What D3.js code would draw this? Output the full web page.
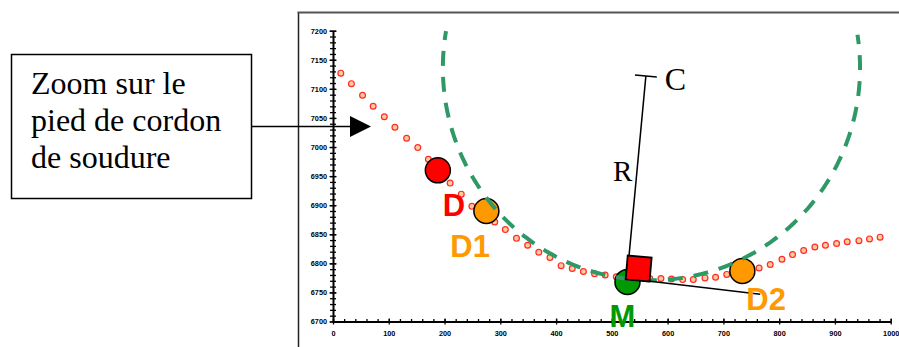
<!DOCTYPE html>
<html><head><meta charset="utf-8">
<script src="https://cdn.jsdelivr.net/npm/d3@7"></script>
<style>html,body{margin:0;padding:0;background:#fff;}svg{display:block;}</style>
</head><body>
<svg id="chart" width="899" height="347"></svg>
<script>
// ---- data ----
const dotX = [14,33,53,72,92,111,132,152,171,190,210,230,249,269,290,309,329,349,369,389,409,429,449,469,488,508,527,547,568,588,607,627,646,667,686,706,725,745,764,784,805,824,844,864,883,903,922,943,962,981];
const dotY = [7127,7109,7089,7070,7052,7034,7015,6999,6979,6958,6938,6919,6898,6884,6871,6858,6843,6831,6819,6810,6796,6791,6786,6782,6780,6777,6775,6774,6774,6774,6773,6772,6772,6775,6776,6781,6784,6788,6792,6798,6807,6815,6822,6828,6831,6834,6837,6839,6842,6845];
const markerNames = ["D","D1","M","D2"];
const markerX = [188, 275, 528, 734];
const markerY = [6960, 6890, 6768, 6787];
const squarePt = [548, 6791];
const centerC = [561, 7122];
const footPt = [527, 6774];
const tangentEnd = [766, 6747];
const arcCenter = [571, 7136];
const arcRadius = [374, 365];
const arcAngles = [170, 369];
const xTickLabels = [0,100,200,300,400,500,600,700,800,900,1000];
const yTickLabels = [6700,6750,6800,6850,6900,6950,7000,7050,7100,7150,7200];
const boxLines = ["Zoom sur le","pied de cordon","de soudure"];

const svg = d3.select("#chart");
const x = d3.scaleLinear().domain([0,1000]).range([333,890.7]);
const y = d3.scaleLinear().domain([6700,7200]).range([321.5,30.7]);

// frame
svg.append("line").attr("x1",298.5).attr("y1",12).attr("x2",298.5).attr("y2",347).attr("stroke","#222").attr("stroke-width",1.5);
svg.append("line").attr("x1",297.5).attr("y1",12.5).attr("x2",899).attr("y2",12.5).attr("stroke","#555").attr("stroke-width",2);

// y axis minor ticks (every 10)
const yMinor = d3.range(6700,7201,10);
const gyMinor = svg.append("g").attr("transform",`translate(${x(0)},0)`)
  .call(d3.axisLeft(y).tickValues(yMinor).tickSize(0).tickFormat(""));
gyMinor.select(".domain").remove();
gyMinor.selectAll(".tick line").attr("x1",-3).attr("x2",3).attr("stroke","#000").attr("stroke-width",1.3);
// y axis major
const gy = svg.append("g").attr("transform",`translate(${x(0)},0)`)
  .call(d3.axisLeft(y).tickValues(yTickLabels).tickSize(0).tickPadding(6).tickFormat(d3.format("d")));
gy.select(".domain").attr("stroke","#000").attr("stroke-width",2);
gy.selectAll(".tick line").attr("x1",-3.5).attr("x2",3.5).attr("stroke","#000").attr("stroke-width",1.3);
gy.selectAll(".tick text").attr("font-family","Liberation Sans, Arial, sans-serif").attr("font-weight","bold").attr("font-size",7.3).attr("fill","#000");

// x axis minor (every 20)
const xMinor = d3.range(0,1001,20);
const gxMinor = svg.append("g").attr("transform",`translate(0,${y(6700)})`)
  .call(d3.axisBottom(x).tickValues(xMinor).tickSize(0).tickFormat(""));
gxMinor.select(".domain").remove();
gxMinor.selectAll(".tick line").attr("y1",-2.5).attr("y2",0).attr("stroke","#000").attr("stroke-width",1.3);
const gx = svg.append("g").attr("transform",`translate(0,${y(6700)})`)
  .call(d3.axisBottom(x).tickValues(xTickLabels).tickSize(0).tickPadding(9).tickFormat(d3.format("d")));
gx.select(".domain").attr("stroke","#000").attr("stroke-width",2);
gx.selectAll(".tick line").attr("y1",-3).attr("y2",3).attr("stroke","#000").attr("stroke-width",1.3);
gx.selectAll(".tick text").attr("font-family","Liberation Sans, Arial, sans-serif").attr("font-weight","bold").attr("font-size",7.3).attr("fill","#000");

// dotted profile
svg.append("g").selectAll("circle").data(dotX.map((d,i)=>[d,dotY[i]])).join("circle")
  .attr("cx",d=>x(d[0])).attr("cy",d=>y(d[1])).attr("r",2.9)
  .attr("fill","#ffcc99").attr("stroke","#ff2a2a").attr("stroke-width",1.2);

// markers
const markerFill = ["#ff0000","#ff9900","#009900","#ff9900"];
svg.append("g").selectAll("circle").data(markerNames).join("circle")
  .attr("cx",(d,i)=>x(markerX[i])).attr("cy",(d,i)=>y(markerY[i])).attr("r",12.5)
  .attr("fill",(d,i)=>markerFill[i]).attr("stroke","#000").attr("stroke-width",1.5);

// dashed osculating circle
const angs = d3.range(arcAngles[0], arcAngles[1]+0.01, 1);
const arcPts = angs.map(a=>[arcCenter[0]+arcRadius[0]*Math.cos(a*Math.PI/180), arcCenter[1]+arcRadius[1]*Math.sin(a*Math.PI/180)]);
svg.append("path").attr("d", d3.line().x(d=>x(d[0])).y(d=>y(d[1])).curve(d3.curveCatmullRom)(arcPts))
  .attr("fill","none").attr("stroke","#2e9966").attr("stroke-width",4)
  .attr("stroke-dasharray","15,11").attr("stroke-dashoffset",6);

// R and tangent lines
svg.append("line").attr("x1",x(centerC[0])).attr("y1",y(centerC[1])).attr("x2",x(footPt[0])).attr("y2",y(footPt[1]))
  .attr("stroke","#000").attr("stroke-width",1.5);
svg.append("line").attr("x1",x(footPt[0])).attr("y1",y(footPt[1])).attr("x2",x(tangentEnd[0])).attr("y2",y(tangentEnd[1]))
  .attr("stroke","#000").attr("stroke-width",1.5);
{
  const cx = x(centerC[0]), cy = y(centerC[1]);
  const fx = x(footPt[0]), fy = y(footPt[1]);
  const len = Math.hypot(fx-cx, fy-cy);
  const ux = (fx-cx)/len, uy = (fy-cy)/len;
  const px = -uy, py = ux;
  svg.append("line").attr("x1",cx-px*11).attr("y1",cy-py*11).attr("x2",cx+px*11).attr("y2",cy+py*11)
    .attr("stroke","#000").attr("stroke-width",1.5);
}

// red square
svg.append("rect").attr("x",-12).attr("y",-12).attr("width",24).attr("height",24)
  .attr("transform",`translate(${x(squarePt[0])},${y(squarePt[1])}) rotate(5)`)
  .attr("fill","#ff0000").attr("stroke","#000").attr("stroke-width",1.8);

// marker labels
const labelFont = "Liberation Sans, Arial, sans-serif";
const labelDx = [5, -36, -5, 4];
const labelDy = [46, 46, 45, 39];
const labelAnchor = ["start","start","middle","start"];
const labelColor = ["#ff0000","#ff9900","#009900","#ff9900"];
svg.append("g").selectAll("text").data(markerNames).join("text")
  .attr("x",(d,i)=>x(markerX[i])+labelDx[i]).attr("y",(d,i)=>y(markerY[i])+labelDy[i])
  .attr("text-anchor",(d,i)=>labelAnchor[i])
  .attr("font-family",labelFont).attr("font-weight","bold").attr("font-size",31)
  .attr("fill",(d,i)=>labelColor[i]).text(d=>d);

// C and R letters
svg.append("text").attr("x",x(centerC[0])+19).attr("y",y(centerC[1])+14).attr("font-family","Liberation Serif, Times New Roman, serif")
  .attr("font-size",32).attr("fill","#000").text("C");
svg.append("text").attr("x",613).attr("y",181).attr("font-family","Liberation Serif, Times New Roman, serif")
  .attr("font-size",29).attr("fill","#000").text("R");

// text box + arrow
svg.append("rect").attr("x",11.5).attr("y",54.5).attr("width",240).attr("height",144)
  .attr("fill","#fff").attr("stroke","#000").attr("stroke-width",1.5);
svg.append("g").selectAll("text").data(boxLines).join("text")
  .attr("x",31).attr("y",(d,i)=>94+i*37)
  .attr("font-family","Liberation Serif, Times New Roman, serif").attr("font-size",32).attr("fill","#000").text(d=>d);
svg.append("line").attr("x1",252).attr("y1",126.5).attr("x2",352).attr("y2",126.5).attr("stroke","#000").attr("stroke-width",1.5);
svg.append("path").attr("d","M350,116 L371,126.5 L350,137 Z").attr("fill","#000");
</script>
</body></html>
